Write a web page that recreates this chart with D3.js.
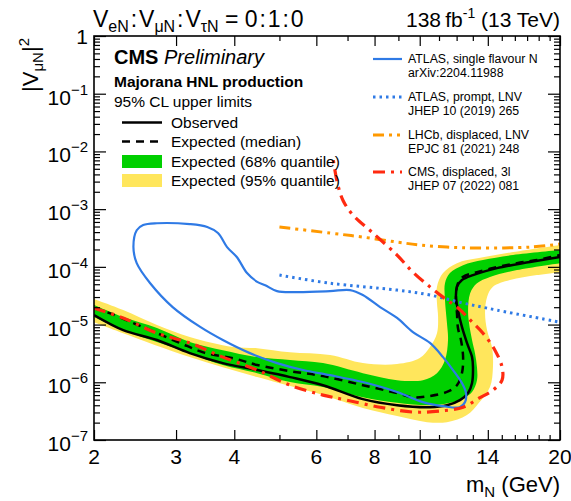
<!DOCTYPE html>
<html>
<head>
<meta charset="utf-8">
<script src="https://cdn.jsdelivr.net/npm/d3@7"></script>
<style>
  body { margin: 0; background: #fff; }
  svg text { font-family: "Liberation Sans", Arial, Helvetica, sans-serif; fill: #000; }
</style>
</head>
<body>
<div id="chart"></div>
<script>
// ---- data: [mass (GeV), |V_muN|^2] ----
var observed = [[2.0,1.46e-5],[2.31,8.0e-6],[2.73,5.4e-6],[3.21,3.2e-6],[3.78,2.15e-6],[4.48,1.63e-6],
  [5.27,1.23e-6],[6.20,8.9e-7],[7.55,5.1e-7],[8.94,4.0e-7],[10.52,3.7e-7],[11.44,4.0e-7],[12.2,4.9e-7],
  [12.70,6.5e-7],[12.95,9.7e-7],[13.01,1.83e-6],[12.95,2.73e-6],[12.63,4.8e-6],[12.32,9.1e-6],
  [12.08,1.78e-5],[11.96,3.0e-5],[12.02,4.5e-5],[12.32,5.9e-5],[13.01,7.2e-5],[14.65,9.5e-5],
  [17.24,1.21e-4],[20,1.48e-4]];

var expected = [[2.0,1.93e-5],[2.16,1.58e-5],[2.43,1.06e-5],[2.73,7.1e-6],[3.06,4.8e-6],[3.43,3.3e-6],
  [4.05,2.52e-6],[4.48,1.99e-6],[5.27,1.56e-6],[6.20,1.28e-6],[7.55,8.9e-7],[8.94,6.5e-7],[9.67,5.5e-7],
  [10.52,5.8e-7],[11.44,6.8e-7],[12.02,8.9e-7],[12.32,1.44e-6],[12.39,2.73e-6],[12.26,5.4e-6],
  [12.08,8.7e-6],[12.02,1.58e-5],[11.96,3.0e-5],[12.08,5.2e-5],[12.39,6.7e-5],[13.27,8.1e-5],
  [14.65,9.9e-5],[16.17,1.16e-4],[17.85,1.31e-4],[20,1.60e-4]];

var band68Upper = [[2.0,2.18e-5],[2.31,1.35e-5],[2.73,8.7e-6],[3.21,5.0e-6],[3.78,3.6e-6],[4.48,2.73e-6],
  [5.27,2.43e-6],[6.20,2.15e-6],[7.55,1.44e-6],[8.94,1.09e-6],[10.16,1.09e-6],[10.89,1.44e-6],
  [11.33,2.43e-6],[11.50,5.4e-6],[11.44,1.06e-5],[11.33,2.66e-5],[11.33,5.2e-5],[11.61,7.8e-5],
  [12.39,1.07e-4],[13.67,1.31e-4],[15.86,1.60e-4],[20,1.95e-4]];
var band68Lower = [[2.0,1.35e-5],[2.31,8.0e-6],[2.73,5.0e-6],[3.21,3.2e-6],[3.78,1.99e-6],[4.48,1.44e-6],
  [5.27,1.01e-6],[6.20,8.3e-7],[7.55,5.5e-7],[8.94,4.4e-7],[10.52,4.0e-7],[11.61,4.4e-7],[12.39,5.3e-7],
  [12.95,6.8e-7],[13.27,1.09e-6],[13.27,1.83e-6],[13.14,3.2e-6],[12.95,5.4e-6],[12.76,1.06e-5],
  [12.70,1.78e-5],[12.83,3.5e-5],[13.27,5.2e-5],[14.15,6.7e-5],[16.17,8.8e-5],[20,1.16e-4]];

var band95Upper = [[2.0,2.77e-5],[2.31,1.78e-5],[2.73,9.8e-6],[3.21,6.1e-6],[3.97,4.1e-6],[4.48,3.9e-6],
  [5.27,3.3e-6],[6.42,2.96e-6],[7.55,2.15e-6],[8.94,2.07e-6],[10.0,2.63e-6],[10.52,4.1e-6],[10.89,7.1e-6],
  [10.95,1.35e-5],[10.89,2.36e-5],[10.89,4.5e-5],[11.22,7.8e-5],[12.02,1.16e-4],[13.4,1.42e-4],
  [15.86,1.80e-4],[20,2.39e-4]];
var band95Lower = [[2.0,1.10e-5],[2.31,7.1e-6],[3.21,2.73e-6],[4.48,1.23e-6],[6.20,6.0e-7],[7.55,3.57e-7],
  [8.94,2.6e-7],[10.37,2.04e-7],[11.44,2.04e-7],[12.63,2.7e-7],[13.4,4.4e-7],[14.15,8.3e-7],[14.36,1.83e-6],
  [14.29,4.1e-6],[13.95,8.0e-6],[13.81,1.58e-5],[13.95,3.0e-5],[14.36,4.5e-5],[15.62,5.9e-5],
  [17.85,7.2e-5],[20,8.1e-5]];

var atlasSingle = [[12.18,3.7e-7],[11.22,3.87e-7],[10.16,4.54e-7],[8.94,6.8e-7],[7.55,1.01e-6],[6.42,1.33e-6],
  [5.62,1.63e-6],[4.94,2.15e-6],[4.32,3.2e-6],[3.78,5.4e-6],[3.38,9.1e-6],[2.95,2.01e-5],[2.64,5.2e-5],
  [2.47,1.16e-4],[2.43,2.2e-4],[2.47,4.3e-4],[2.55,5.3e-4],[2.73,5.7e-4],[3.21,5.5e-4],[3.50,4.9e-4],
  [3.69,3.85e-4],[3.86,2.2e-4],[4.05,1.48e-4],[4.26,7.8e-5],[4.48,5.5e-5],[4.66,4.8e-5],[4.94,3.8e-5],
  [5.45,3.66e-5],[6.42,3.8e-5],[7.09,3.96e-5],[7.55,3.25e-5],[8.22,2.01e-5],[8.94,1.30e-5],[9.67,7.4e-6],
  [10.52,4.8e-6],[11.22,2.73e-6],[11.79,1.63e-6],[12.32,9.7e-7],[12.57,6.5e-7],[12.51,4.54e-7]];

var atlasPrompt = [[5.0,7.2e-5],[6.42,5.2e-5],[8.94,3.96e-5],[10.52,3.25e-5],[12.39,2.36e-5],
  [14.65,1.78e-5],[20,1.10e-5]];

var lhcb = [[5.0,4.9e-4],[6.42,3.85e-4],[7.55,3.28e-4],[8.94,2.69e-4],[10.0,2.39e-4],[11.44,2.2e-4],
  [13.4,2.12e-4],[17.24,2.2e-4],[20,2.48e-4]];

var cmsDisplaced = [[2.0,1.93e-5],[2.31,1.30e-5],[2.73,7.1e-6],[3.21,4.8e-6],[3.78,2.73e-6],[4.48,1.63e-6],
  [5.27,8.9e-7],[6.20,6.0e-7],[6.98,4.9e-7],[8.22,3.7e-7],[9.67,3.05e-7],[11.02,3.17e-7],[12.39,3.7e-7],
  [13.4,5.3e-7],[14.36,7.3e-7],[15.02,1.09e-6],[15.02,1.83e-6],[14.50,3.6e-6],[13.67,7.1e-6],
  [12.83,1.20e-5],[12.02,2.01e-5],[11.44,2.66e-5],[10.52,4.5e-5],[9.67,8.1e-5],[8.94,1.60e-4],
  [7.94,3.85e-4],[7.19,7.9e-4],[6.85,1.4e-3],[6.66,2.8e-3],[6.51,8.0e-3]];

var xTickLabels = [2, 3, 4, 6, 8, 10, 14, 20];
var xMinorTicks = [5, 7, 9, 11, 12, 13, 15, 16, 17, 18, 19];
var yDecades = [-7, -6, -5, -4, -3, -2, -1, 0];

// ---- layout ----
var svgWidth = 571, svgHeight = 501;
var frame = { left: 94, right: 560, top: 36, bottom: 440 };

var svg = d3.select("#chart").append("svg")
  .attr("width", svgWidth)
  .attr("height", svgHeight);

var xScale = d3.scaleLog().domain([2, 20]).range([frame.left, frame.right]);
var yScale = d3.scaleLog().domain([1e-7, 1]).range([frame.bottom, frame.top]);

svg.append("clipPath").attr("id", "clip")
  .append("rect")
  .attr("x", frame.left).attr("y", frame.top)
  .attr("width", frame.right - frame.left).attr("height", frame.bottom - frame.top);

var plot = svg.append("g").attr("clip-path", "url(#clip)");

var line = d3.line()
  .x(d => xScale(d[0]))
  .y(d => yScale(d[1]))
  .curve(d3.curveCatmullRom.alpha(0.5));

function bandPath(upper, lower) {
  var a = line(upper);
  var b = line(lower.slice().reverse());
  return a + "L" + b.slice(1) + "Z";
}

// bands
plot.append("path").attr("d", bandPath(band95Upper, band95Lower)).attr("fill", "#ffe65c");
plot.append("path").attr("d", bandPath(band68Upper, band68Lower)).attr("fill", "#00d000");

// expected & observed
plot.append("path").attr("d", line(expected))
  .attr("fill", "none").attr("stroke", "#000").attr("stroke-width", 2.5)
  .attr("stroke-dasharray", "8,6");
plot.append("path").attr("d", line(observed))
  .attr("fill", "none").attr("stroke", "#000").attr("stroke-width", 2.5);

// other experiments
var blue = "#2f7ae5", orange = "#ff9900", red = "#ff2a10";
var closedLine = d3.line()
  .x(d => xScale(d[0]))
  .y(d => yScale(d[1]))
  .curve(d3.curveCatmullRomClosed.alpha(0.5));

plot.append("path").attr("d", closedLine(atlasSingle))
  .attr("fill", "none").attr("stroke", blue).attr("stroke-width", 2.2);
plot.append("path").attr("d", line(atlasPrompt))
  .attr("fill", "none").attr("stroke", blue).attr("stroke-width", 3)
  .attr("stroke-dasharray", "2.5,4");
plot.append("path").attr("d", line(lhcb))
  .attr("fill", "none").attr("stroke", orange).attr("stroke-width", 3)
  .attr("stroke-dasharray", "11,5,3,5,3,5");
plot.append("path").attr("d", line(cmsDisplaced))
  .attr("fill", "none").attr("stroke", red).attr("stroke-width", 3.2)
  .attr("stroke-dasharray", "12,6,3,6");

// ---- axes (ROOT style, ticks inward on all four sides) ----
var yMajor = yDecades.map(e => Math.pow(10, e));
var yMinor = [];
yDecades.slice(0, -1).forEach(function(e) {
  for (var k = 2; k <= 9; k++) yMinor.push(k * Math.pow(10, e));
});

function addAxis(axis, transform) {
  svg.append("g")
    .attr("transform", transform)
    .call(axis)
    .call(g => g.select(".domain").remove())
    .call(g => g.selectAll("line").attr("stroke", "#000").attr("stroke-width", 1.2));
}

addAxis(d3.axisBottom(xScale).tickValues(xTickLabels).tickSize(-10).tickFormat(""), `translate(0,${frame.bottom})`);
addAxis(d3.axisBottom(xScale).tickValues(xMinorTicks).tickSize(-5).tickFormat(""), `translate(0,${frame.bottom})`);
addAxis(d3.axisTop(xScale).tickValues(xTickLabels).tickSize(-10).tickFormat(""), `translate(0,${frame.top})`);
addAxis(d3.axisTop(xScale).tickValues(xMinorTicks).tickSize(-5).tickFormat(""), `translate(0,${frame.top})`);
addAxis(d3.axisLeft(yScale).tickValues(yMajor).tickSize(-12).tickFormat(""), `translate(${frame.left},0)`);
addAxis(d3.axisLeft(yScale).tickValues(yMinor).tickSize(-6).tickFormat(""), `translate(${frame.left},0)`);
addAxis(d3.axisRight(yScale).tickValues(yMajor).tickSize(-12).tickFormat(""), `translate(${frame.right},0)`);
addAxis(d3.axisRight(yScale).tickValues(yMinor).tickSize(-6).tickFormat(""), `translate(${frame.right},0)`);

svg.append("rect")
  .attr("x", frame.left).attr("y", frame.top)
  .attr("width", frame.right - frame.left).attr("height", frame.bottom - frame.top)
  .attr("fill", "none").attr("stroke", "#000").attr("stroke-width", 1.6);

// x tick labels
svg.append("g").selectAll("text")
  .data(xTickLabels)
  .enter()
  .append("text")
  .attr("x", d => xScale(d))
  .attr("y", frame.bottom + 24)
  .attr("text-anchor", "middle")
  .attr("font-size", 21)
  .text(d => d);

// y tick labels
var yLab = svg.append("g").selectAll("text")
  .data(yDecades)
  .enter()
  .append("text")
  .attr("x", frame.left - 6)
  .attr("y", d => yScale(Math.pow(10, d)) + (d === 0 ? 8 : 11))
  .attr("text-anchor", "end")
  .attr("font-size", 21);
yLab.each(function(d) {
  var t = d3.select(this);
  if (d === 0) { t.text("1"); return; }
  t.append("tspan").text("10");
  t.append("tspan").attr("dy", -10).attr("font-size", 15).text("\u2212" + (-d));
});

// axis titles
var xt = svg.append("text")
  .attr("x", frame.right).attr("y", 492)
  .attr("text-anchor", "end").attr("font-size", 22);
xt.append("tspan").text("m");
xt.append("tspan").attr("dy", 5).attr("font-size", 15).text("N");
xt.append("tspan").attr("dy", -5).text(" (GeV)");

var yt = svg.append("text")
  .attr("transform", `translate(38,${frame.top + 2}) rotate(-90)`)
  .attr("text-anchor", "end").attr("font-size", 22);
yt.append("tspan").text("|V");
yt.append("tspan").attr("dy", 5).attr("font-size", 15).text("\u03bcN");
yt.append("tspan").attr("dy", -5).text("|");
yt.append("tspan").attr("dy", -9).attr("font-size", 15).text("2");

// top titles
var tl = svg.append("text").attr("x", 93).attr("y", 27).attr("font-size", 23);
[["e", "\u200a:\u200a"], ["\u03bc", "\u200a:\u200a"], ["\u03c4", " = 0\u200a:\u200a1\u200a:\u200a0"]].forEach(function(p) {
  tl.append("tspan").text("V");
  tl.append("tspan").attr("dy", 5).attr("font-size", 16).text(p[0] + "N");
  tl.append("tspan").attr("dy", -5).text(p[1]);
});

var tr = svg.append("text").attr("x", frame.right).attr("y", 27)
  .attr("text-anchor", "end").attr("font-size", 21);
tr.append("tspan").text("138\u2009fb");
tr.append("tspan").attr("dy", -9).attr("font-size", 14).text("-1");
tr.append("tspan").attr("dy", 9).text(" (13 TeV)");

// ---- left legend ----
var cms = svg.append("text").attr("x", 114).attr("y", 64).attr("font-size", 20);
cms.append("tspan").attr("font-weight", "bold").text("CMS");
cms.append("tspan").attr("font-style", "italic").text(" Preliminary");
svg.append("text").attr("x", 114).attr("y", 87).attr("font-size", 15.5)
  .attr("font-weight", "bold").text("Majorana HNL production");
svg.append("text").attr("x", 114).attr("y", 107).attr("font-size", 15.5)
  .text("95% CL upper limits");

var leftEntries = [
  { label: "Observed", y: 122.5, type: "line", dash: null },
  { label: "Expected (median)", y: 141.5, type: "line", dash: "8,6" },
  { label: "Expected (68% quantile)", y: 161.5, type: "box", fill: "#00d000" },
  { label: "Expected (95% quantile)", y: 180.5, type: "box", fill: "#ffe65c" }
];
leftEntries.forEach(function(d) {
  if (d.type === "line") {
    svg.append("line").attr("x1", 122).attr("x2", 162).attr("y1", d.y).attr("y2", d.y)
      .attr("stroke", "#000").attr("stroke-width", 2.5)
      .attr("stroke-dasharray", d.dash);
  } else {
    svg.append("rect").attr("x", 122).attr("y", d.y - 6.5).attr("width", 40).attr("height", 13)
      .attr("fill", d.fill);
  }
  svg.append("text").attr("x", 171).attr("y", d.y + 5.5).attr("font-size", 15.5).text(d.label);
});

// ---- right legend ----
var rightEntries = [
  { l1: "ATLAS, single flavour N", l2: "arXiv:2204.11988", y: 59, color: blue, dash: null, w: 2.2 },
  { l1: "ATLAS, prompt, LNV", l2: "JHEP 10 (2019) 265", y: 97, color: blue, dash: "2.5,4", w: 3 },
  { l1: "LHCb, displaced, LNV", l2: "EPJC 81 (2021) 248", y: 135, color: orange, dash: "11,5,3,5,3,5", w: 3 },
  { l1: "CMS, displaced, 3l", l2: "JHEP 07 (2022) 081", y: 172, color: red, dash: "12,6,3,6", w: 3.2 }
];
rightEntries.forEach(function(d) {
  svg.append("line").attr("x1", 373).attr("x2", 402).attr("y1", d.y).attr("y2", d.y)
    .attr("stroke", d.color).attr("stroke-width", d.w)
    .attr("stroke-dasharray", d.dash);
  svg.append("text").attr("x", 408).attr("y", d.y + 4).attr("font-size", 12.3).text(d.l1);
  svg.append("text").attr("x", 408).attr("y", d.y + 18).attr("font-size", 12.3).text(d.l2);
});
</script>
</body>
</html>
